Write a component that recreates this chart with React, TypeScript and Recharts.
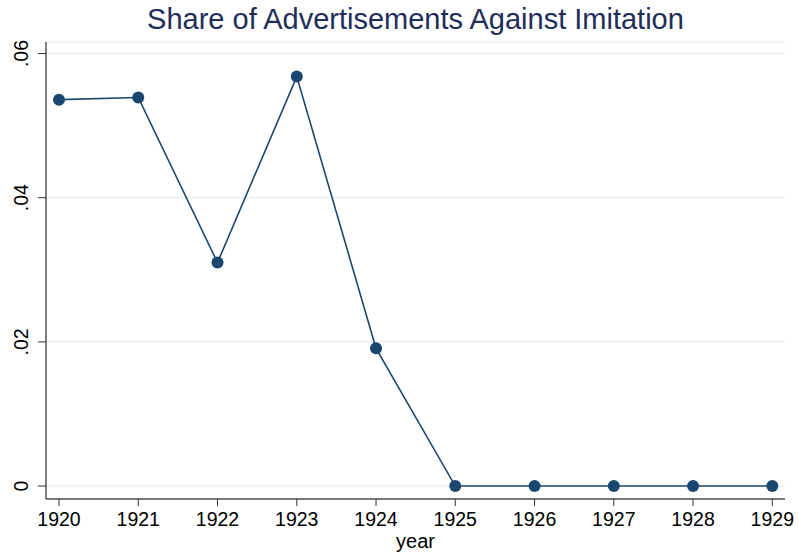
import React from 'react';
import { LineChart, Line, XAxis, YAxis, CartesianGrid } from 'recharts';

const years = [1920, 1921, 1922, 1923, 1924, 1925, 1926, 1927, 1928, 1929];
const shares = [0.0536, 0.0539, 0.031, 0.0568, 0.0191, 0, 0, 0, 0, 0];
const yTicks = [0, 0.02, 0.04, 0.06];
const yTickLabels = ['0', '.02', '.04', '.06'];

const data = years.map((y, i) => ({ year: y, share: shares[i] }));

const FONT = '"Liberation Sans", Arial, Helvetica, sans-serif';
const NAVY = '#1a476f';

const YTick = (props: any) => {
  const { y, payload } = props;
  const idx = yTicks.indexOf(payload.value);
  const label = idx >= 0 ? yTickLabels[idx] : String(payload.value);
  const tx = 28;
  return (
    <text
      x={tx}
      y={y}
      transform={`rotate(-90, ${tx}, ${y})`}
      textAnchor="middle"
      fontFamily={FONT}
      fontSize={19.5}
      fill="#000"
    >
      {label}
    </text>
  );
};

const XTick = (props: any) => {
  const { x, payload } = props;
  return (
    <text x={x} y={526} textAnchor="middle" fontFamily={FONT} fontSize={19.5} fill="#000">
      {payload.value}
    </text>
  );
};

export default function App() {
  return (
    <div style={{ position: 'absolute', left: 0, top: 0, width: 799, height: 559, background: '#fff' }}>
      <LineChart
        width={799}
        height={559}
        data={data}
        margin={{ top: 42, right: 14, left: 0, bottom: 0 }}
      >
        <CartesianGrid horizontal vertical={false} stroke="#eaf0f2" strokeWidth={1.5} />
        <XAxis
          dataKey="year"
          type="number"
          domain={[1919.836, 1929.16]}
          ticks={years}
          allowDataOverflow
          height={60}
          stroke="#000"
          tickLine={{ stroke: '#333' }}
          tickSize={7}
          tick={<XTick />}
          interval={0}
        />
        <YAxis
          type="number"
          domain={[-0.0018, 0.0616]}
          ticks={yTicks}
          allowDataOverflow
          width={46}
          stroke="#000"
          tickLine={{ stroke: '#333' }}
          tickSize={8}
          tick={<YTick />}
          interval={0}
        />
        <Line
          type="linear"
          dataKey="share"
          stroke={NAVY}
          strokeWidth={1.6}
          dot={{ r: 6, fill: NAVY, stroke: NAVY, strokeWidth: 0 }}
          activeDot={false}
          isAnimationActive={false}
        />
      </LineChart>
      <svg
        width={799}
        height={559}
        style={{ position: 'absolute', left: 0, top: 0, pointerEvents: 'none' }}
      >
        <text x={415.5} y={29} textAnchor="middle" fontFamily={FONT} fontSize={29} fill="#1e2d5a">
          Share of Advertisements Against Imitation
        </text>
        <text x={415.5} y={548} textAnchor="middle" fontFamily={FONT} fontSize={20} fill="#000">
          year
        </text>
      </svg>
    </div>
  );
}
